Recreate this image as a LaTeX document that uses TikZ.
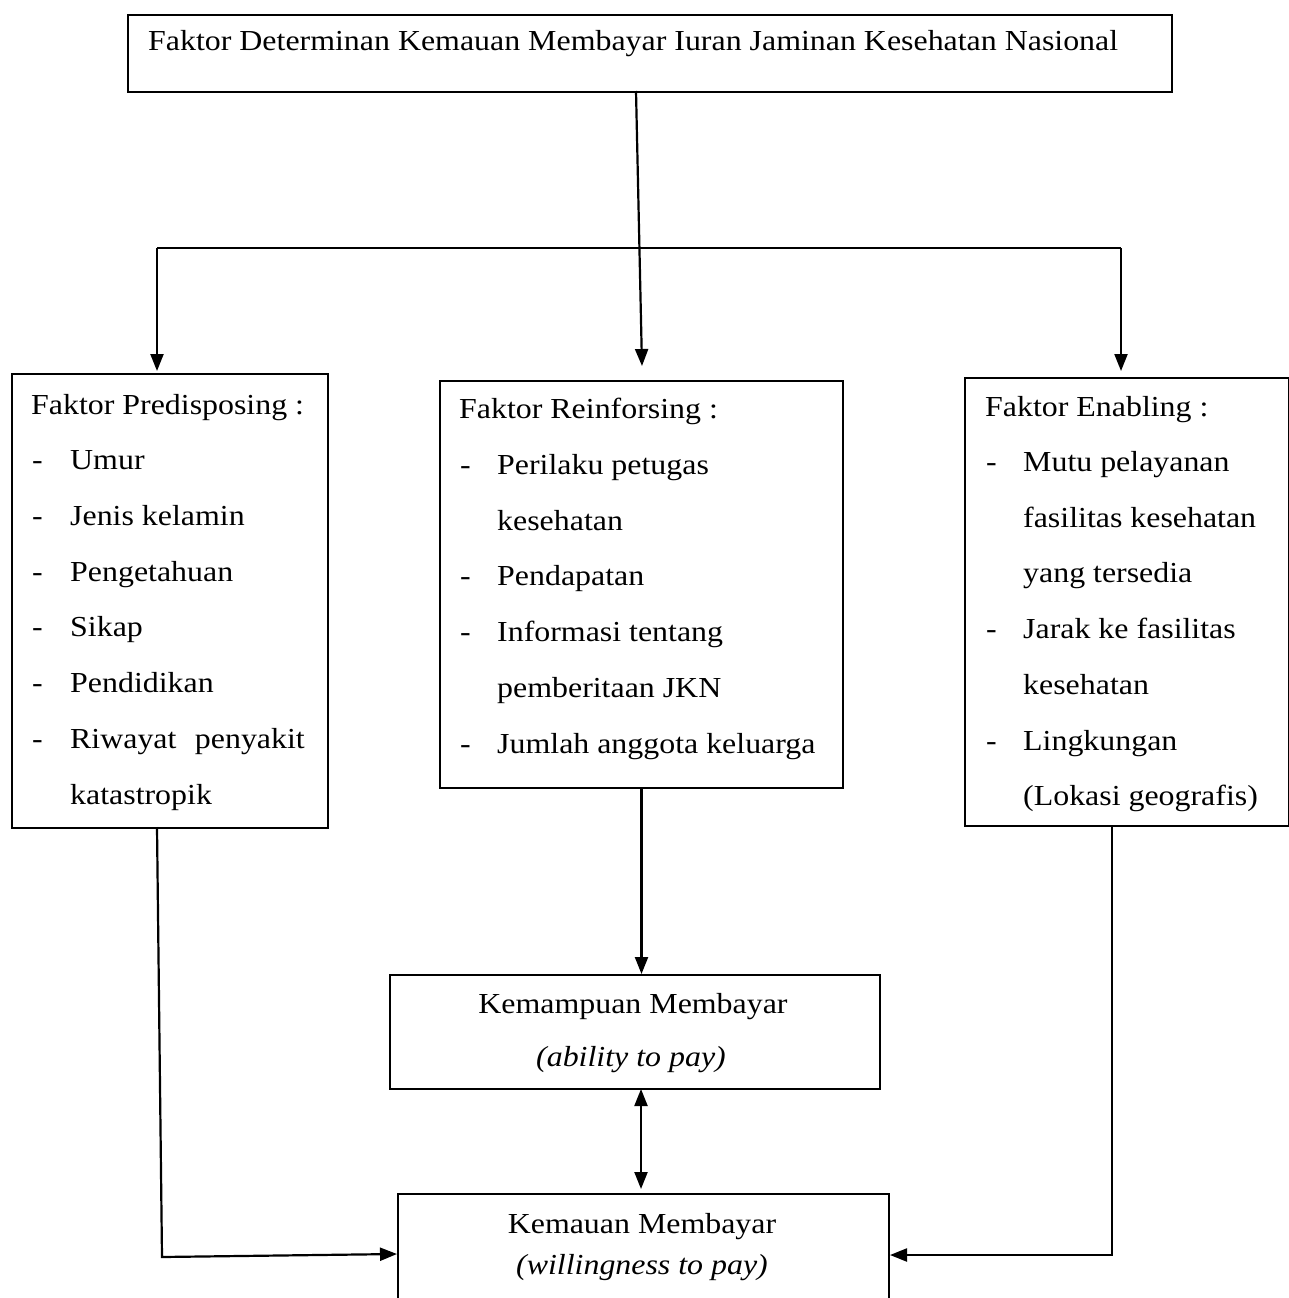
\documentclass[tikz,border=0pt]{standalone}
\usepackage{fontspec}
\setmainfont{Liberation Serif}[FakeStretch=1.1]
\usetikzlibrary{arrows.meta}
\begin{document}
\begin{tikzpicture}[x=1pt,y=-1pt,
  box/.style={draw,line width=2pt,inner sep=0pt,anchor=north west},
  txt/.style={inner sep=0pt,anchor=base west,font=\fontsize{29}{34}\selectfont},
  rtxt/.style={inner sep=0pt,anchor=base east,font=\fontsize{29}{34}\selectfont},
  ctxt/.style={inner sep=0pt,anchor=base,font=\fontsize{29}{34}\selectfont},
  conn/.style={line width=2.2pt},
  arr/.style={conn,-{Triangle[length=17pt,width=13pt]}},
  darr/.style={conn,{Triangle[length=17pt,width=13pt]}-{Triangle[length=17pt,width=13pt]}}]
\useasboundingbox (0,0) rectangle (1289,1298);

% boxes
\node[box,minimum width=1044pt,minimum height=77pt] (top) at (127,14) {};
\node[box,minimum width=316pt,minimum height=454pt] (pred) at (11,373) {};
\node[box,minimum width=403pt,minimum height=407pt] (reinf) at (439,380) {};
\node[box,minimum width=324pt,minimum height=448pt] (enab) at (964,377) {};
\node[box,minimum width=490pt,minimum height=114pt] (kmp) at (389,974) {};
\node[box,minimum width=491pt,minimum height=150pt] (kmu) at (397,1193) {};

% title
\node[txt] (tTitle) at (148,51) {Faktor Determinan Kemauan Membayar Iuran Jaminan Kesehatan Nasional};

% predisposing
\node[txt] (p0) at (31,414) {Faktor Predisposing :};
\node[txt] (pd1) at (32,469) {-};
\node[txt] (p1) at (70,469) {Umur};
\node[txt] (pd2) at (32,525) {-};
\node[txt] (p2) at (70,525) {Jenis kelamin};
\node[txt] (pd3) at (32,581) {-};
\node[txt] (p3) at (70,581) {Pengetahuan};
\node[txt] (pd4) at (32,636) {-};
\node[txt] (p4) at (70,636) {Sikap};
\node[txt] (pd5) at (32,692) {-};
\node[txt] (p5) at (70,692) {Pendidikan};
\node[txt] (pd6) at (32,748) {-};
\node[txt] (p6a) at (70,748) {Riwayat};
\node[rtxt] (p6b) at (305,748) {penyakit};
\node[txt] (p7) at (70,804) {katastropik};

% reinforcing
\node[txt] (r0) at (459,418) {Faktor Reinforsing :};
\node[txt] (rd1) at (460,474) {-};
\node[txt] (r1) at (497,474) {Perilaku petugas};
\node[txt] (r2) at (497,530) {kesehatan};
\node[txt] (rd3) at (460,585) {-};
\node[txt] (r3) at (497,585) {Pendapatan};
\node[txt] (rd4) at (460,641) {-};
\node[txt] (r4) at (497,641) {Informasi tentang};
\node[txt] (r5) at (497,697) {pemberitaan JKN};
\node[txt] (rd6) at (460,753) {-};
\node[txt] (r6) at (497,753) {Jumlah anggota keluarga};

% enabling
\node[txt] (e0) at (985,416) {Faktor Enabling :};
\node[txt] (ed1) at (986,471) {-};
\node[txt] (e1) at (1023,471) {Mutu pelayanan};
\node[txt] (e2) at (1023,527) {fasilitas kesehatan};
\node[txt] (e3) at (1023,582) {yang tersedia};
\node[txt] (ed4) at (986,638) {-};
\node[txt] (e4) at (1023,638) {Jarak ke fasilitas};
\node[txt] (e5) at (1023,694) {kesehatan};
\node[txt] (ed6) at (986,750) {-};
\node[txt] (e6) at (1023,750) {Lingkungan};
\node[txt] (e7) at (1023,805) {(Lokasi geografis)};

% outcome boxes
\node[ctxt] (k1) at (633,1013) {Kemampuan Membayar};
\node[ctxt] (k2) at (631,1066) {\itshape (ability to pay)};
\node[ctxt] (w1) at (642,1233) {Kemauan Membayar};
\node[ctxt] (w2) at (642,1274) {\itshape (willingness to pay)};

% connectors
\coordinate (busL) at (157,248);
\coordinate (busR) at (1121,248);
\coordinate (tS) at (636,91);
\coordinate (midTip) at (642,366);
\coordinate (lTipTop) at (157,371);
\coordinate (rTipTop) at (1121,371);
\draw[conn] (busL) -- (busR);
\draw[arr] (busL) -- (lTipTop);
\draw[arr] (busR) -- (rTipTop);
\draw[arr] (tS) -- (midTip);
\draw[arr] (reinf.south) -- (reinf.south |- kmp.north);
\coordinate (dA) at (641,1089);
\coordinate (dB) at (641,1189);
\draw[darr] (dA) -- (dB);
\coordinate (lTop) at (157,827);
\coordinate (lBend) at (162,1257);
\coordinate (lTip) at (397,1254);
\draw[arr] (lTop) -- (lBend) -- (lTip);
\coordinate (rTop) at (1112,825);
\coordinate (rBend) at (1112,1255);
\draw[arr] (rTop) -- (rBend) -- (rBend -| kmu.east);
\end{tikzpicture}
\end{document}
